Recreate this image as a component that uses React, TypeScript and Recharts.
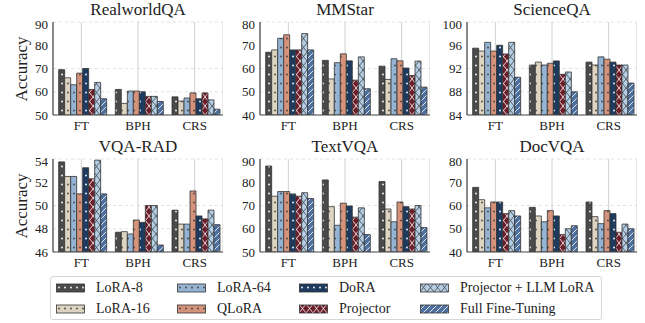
import { BarChart, Bar, XAxis, YAxis, CartesianGrid } from 'recharts';

const categories = ['FT', 'BPH', 'CRS'];
const seriesNames = [
  'LoRA-8',
  'LoRA-16',
  'LoRA-64',
  'QLoRA',
  'DoRA',
  'Projector',
  'Projector + LLM LoRA',
  'Full Fine-Tuning',
];

// rows: FT, BPH, CRS ; columns follow seriesNames
const realworldQA = [
  [69.5, 66, 63, 68, 70, 61, 64, 57],
  [61, 55, 60.3, 60.3, 60, 58, 58, 55.8],
  [57.8, 56, 57.3, 59.5, 57, 59.5, 56.5, 52.5],
];
const mmStar = [
  [67, 68, 73, 74.5, 68, 68, 75, 68],
  [63.5, 55.5, 62.5, 66.3, 63.3, 55, 65, 51.3],
  [61, 55.3, 64.2, 63.3, 60.2, 57, 63.2, 52],
];
const scienceQA = [
  [95.5, 95, 96.5, 95, 96, 94.5, 96.5, 90.5],
  [92.6, 93.1, 92.6, 92.9, 93.3, 91, 91.4, 88],
  [93.1, 92.6, 94, 93.6, 93.1, 92.6, 92.6, 89.5],
];
const vqaRad = [
  [53.75, 52.5, 52.5, 51, 53.25, 52.3, 53.9, 51],
  [47.7, 47.75, 47.55, 48.75, 48.55, 50, 50, 46.6],
  [49.6, 48.4, 48.4, 51.25, 49.1, 48.85, 49.6, 48.35],
];
const textVQA = [
  [87, 74, 76, 76, 75, 74, 75.5, 73],
  [81, 69.5, 61.5, 71, 69.8, 65, 69, 57.5],
  [80.3, 68.5, 63, 71.5, 69.5, 68.5, 70, 60.5],
];
const docVQA = [
  [67.8, 62.5, 59, 61.5, 61.5, 56.5, 57.8, 55.5],
  [59.2, 55.5, 53, 57.8, 55.5, 47.5, 50, 51.3],
  [61.5, 55.2, 52.2, 57.8, 56.5, 48.5, 52, 50],
];

const realworldTicks = [50, 60, 70, 80, 90];
const mmStarTicks = [40, 50, 60, 70, 80];
const scienceTicks = [84, 88, 92, 96, 100];
const vqaRadTicks = [46, 48, 50, 52, 54];
const textVQATicks = [50, 60, 70, 80, 90];
const docVQATicks = [40, 50, 60, 70, 80];

const COLORS = ['#4a4a4a', '#ddd4c2', '#95b4d4', '#d5937b', '#1e3b5f', '#6c1f2b', '#b4cee6', '#4e709e'];
const MARK = ['#ffffff', '#444', '#444', '#444', '#ffffff', '#ffffff', '#444', '#ffffff'];
const KIND = ['dot', 'dot', 'dot', 'dot', 'dot', 'x', 'x', 'slash'];

const FONT = '"Liberation Serif", "Times New Roman", serif';

const toRows = (vals: number[][]) =>
  categories.map((c, i) => {
    const row: Record<string, number | string> = { cat: c };
    vals[i].forEach((v, j) => (row['s' + j] = v));
    return row;
  });

const Patterns = () => (
  <svg width={0} height={0} style={{ position: 'absolute' }}>
    <defs>
      {COLORS.map((col, i) => {
        const kind = KIND[i];
        if (kind === 'dot') {
          return (
            <pattern key={i} id={'pat' + i} patternUnits="userSpaceOnUse" width={6} height={9}>
              <rect width={6} height={9} fill={col} />
              <circle cx={3} cy={4.5} r={0.9} fill={MARK[i]} />
            </pattern>
          );
        }
        if (kind === 'x') {
          return (
            <pattern key={i} id={'pat' + i} patternUnits="userSpaceOnUse" width={7} height={9}>
              <rect width={7} height={9} fill={col} />
              <path d="M0,0 L7,9 M7,0 L0,9" stroke={MARK[i]} strokeWidth={0.8} />
            </pattern>
          );
        }
        return (
          <pattern key={i} id={'pat' + i} patternUnits="userSpaceOnUse" width={6} height={6}>
            <rect width={6} height={6} fill={col} />
            <path d="M0,6 L6,0 M-1,1 L1,-1 M5,7 L7,5" stroke={MARK[i]} strokeWidth={0.8} />
          </pattern>
        );
      })}
    </defs>
  </svg>
);

type PanelProps = {
  title: string;
  vals: number[][];
  ticks: number[];
  plotLeft: number;
  plotTop: number;
  yLabel?: boolean;
};

const Panel = ({ title, vals, ticks, plotLeft, plotTop, yLabel }: PanelProps) => {
  const yw = 30;
  const mt = 6;
  const xh = 20;
  const plotW = 170;
  const plotH = 93;
  return (
    <>
      <div
        style={{
          position: 'absolute',
          left: plotLeft,
          width: plotW,
          top: plotTop - 22,
          textAlign: 'center',
          fontFamily: FONT,
          fontSize: 17,
          color: '#222',
          lineHeight: '20px',
        }}
      >
        {title}
      </div>
      {yLabel && (
        <div
          style={{
            position: 'absolute',
            left: 22 - 50,
            top: plotTop + plotH / 2 - 10,
            width: 100,
            textAlign: 'center',
            transform: 'rotate(-90deg)',
            fontFamily: FONT,
            fontSize: 17,
            color: '#222',
            lineHeight: '20px',
          }}
        >
          Accuracy
        </div>
      )}
      <div style={{ position: 'absolute', left: plotLeft - yw, top: plotTop - mt }}>
        <BarChart
          width={plotW + yw}
          height={plotH + mt + xh}
          data={toRows(vals)}
          margin={{ top: mt, right: 0, left: 0, bottom: 0 }}
          barCategoryGap="10%"
          barGap={0}
        >
          <CartesianGrid vertical={false} stroke="#e2e2e2" strokeDasharray="3 3" />
          <CartesianGrid horizontal={false} stroke="#d0d0d0" />
          <XAxis
            dataKey="cat"
            height={xh}
            tickLine={false}
            tickSize={4}
            stroke="#4a4a4a"
            strokeWidth={1.2}
            tick={{ fill: '#222', fontSize: 13, fontFamily: FONT }}
          />
          <YAxis
            width={yw}
            domain={[ticks[0], ticks[ticks.length - 1]]}
            ticks={ticks}
            allowDataOverflow
            tickLine={false}
            tickSize={3}
            stroke="#4a4a4a"
            strokeWidth={1.2}
            tick={{ fill: '#222', fontSize: 13, fontFamily: FONT }}
          />
          {seriesNames.map((n, i) => (
            <Bar
              key={n}
              name={n}
              dataKey={'s' + i}
              fill={`url(#pat${i})`}
              stroke="#333"
              strokeWidth={0.8}
              isAnimationActive={false}
            />
          ))}
        </BarChart>
      </div>
    </>
  );
};

const legendCols = [56, 177, 299, 420];
const legendRows = [288, 309];

const Legend = () => (
  <>
    <div
      style={{
        position: 'absolute',
        left: 50,
        top: 276,
        width: 552,
        height: 44,
        border: '1px solid #d6d6d6',
        borderRadius: 3,
        boxSizing: 'border-box',
      }}
    />
    {seriesNames.map((n, i) => {
      const col = Math.floor(i / 2);
      const row = i % 2;
      return (
        <div
          key={n}
          style={{
            position: 'absolute',
            left: legendCols[col],
            top: legendRows[row] - 9,
            height: 18,
            display: 'flex',
            alignItems: 'center',
            fontFamily: FONT,
            fontSize: 14,
            color: '#222',
            whiteSpace: 'nowrap',
          }}
        >
          <svg width={29} height={10} style={{ marginRight: 11 }}>
            <rect x={0.5} y={1} width={28} height={8} fill={`url(#pat${i})`} stroke="#333" strokeWidth={0.8} />
          </svg>
          {n}
        </div>
      );
    })}
  </>
);

const App = () => {
  return (
    <div style={{ position: 'absolute', left: 0, top: 0, width: 645, height: 323, background: '#fff', overflow: 'hidden' }}>
      <Patterns />
      <Panel title="RealworldQA" vals={realworldQA} ticks={realworldTicks} plotLeft={53} plotTop={22} yLabel />
      <Panel title="MMStar" vals={mmStar} ticks={mmStarTicks} plotLeft={260} plotTop={22} />
      <Panel title="ScienceQA" vals={scienceQA} ticks={scienceTicks} plotLeft={467} plotTop={22} />
      <Panel title="VQA-RAD" vals={vqaRad} ticks={vqaRadTicks} plotLeft={53} plotTop={159} yLabel />
      <Panel title="TextVQA" vals={textVQA} ticks={textVQATicks} plotLeft={260} plotTop={159} />
      <Panel title="DocVQA" vals={docVQA} ticks={docVQATicks} plotLeft={467} plotTop={159} />
      <Legend />
    </div>
  );
};

export default App;
